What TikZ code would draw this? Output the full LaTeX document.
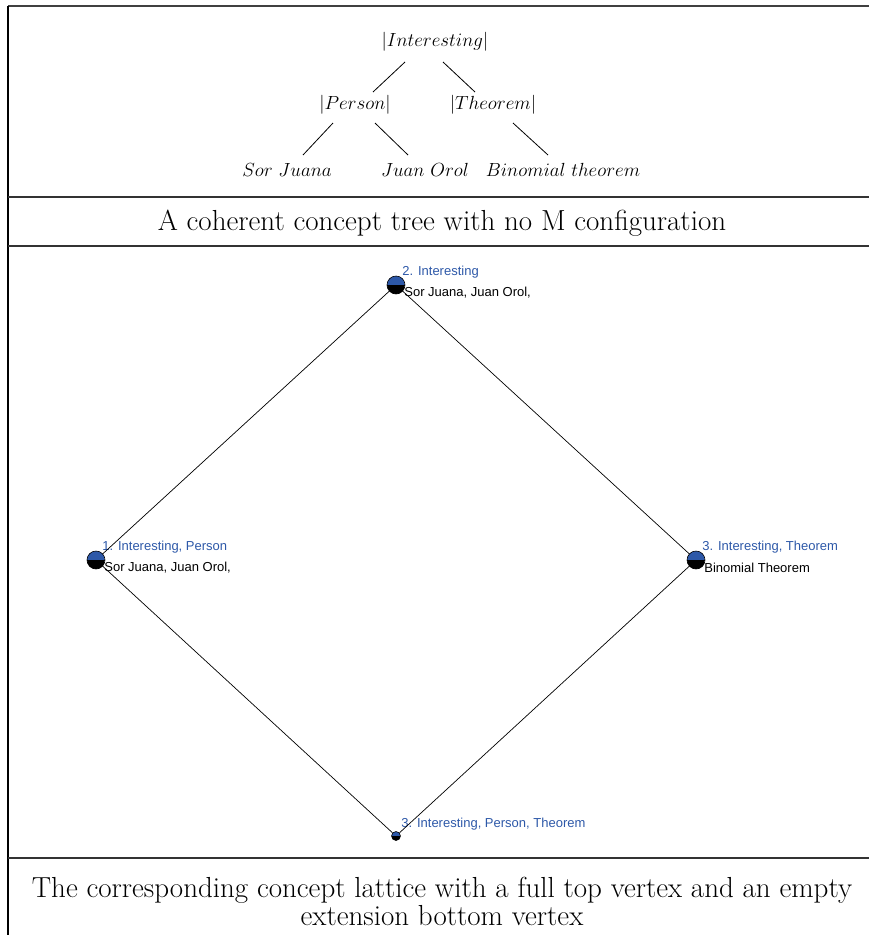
\RequirePackage{fix-cm}
\documentclass[tikz,border=0pt]{standalone}
\usepackage{fontspec}
\newfontfamily\latticefont{Liberation Sans}
\usetikzlibrary{calc}
\definecolor{intentblue}{RGB}{45,88,168}

\tikzset{
  treenode/.style={inner sep=0pt,font=\fontsize{19}{22}\selectfont},
  caption/.style={align=center,font=\fontsize{29}{28}\selectfont},
  vertex/.style={circle,inner sep=0pt,minimum size=#1,draw=black,line width=0.6pt,
    path picture={\fill[intentblue] (path picture bounding box.north west) rectangle (path picture bounding box.east);
                  \fill[black] (path picture bounding box.west) rectangle (path picture bounding box.south east);}},
  intent/.style={anchor=west,inner sep=0pt,text=intentblue,font=\latticefont\fontsize{13}{15}\selectfont},
  extent/.style={anchor=west,inner sep=0pt,font=\latticefont\fontsize{13}{15}\selectfont}
}

\begin{document}
\begin{tikzpicture}[x=1pt,y=-1pt,line width=0.8pt]
  \useasboundingbox (0,0) rectangle (869,935);
  % frame
  \draw[line width=1.4pt,black!75] (8,6) -- (869,6);
  \draw[line width=1.2pt] (8,6) -- (8,935);
  \foreach \y in {197,246,858} \draw[line width=1.2pt,black!80] (8,\y) -- (869,\y);

  % concept tree
  \node[treenode] (int) at (435,42)  {$|Interesting|$};
  \node[treenode] (per) at (355,105) {$|Person|$};
  \node[treenode] (thm) at (493,105) {$|Theorem|$};
  \node[treenode] (sor) at (287,170) {$Sor\ Juana$};
  \node[treenode] (jua) at (425,170) {$Juan\ Orol$};
  \node[treenode] (bin) at (563,170) {$Binomial\ theorem$};
  \draw ($(int)+(-30,20)$) -- ($(per)+(18,-13)$);
  \draw ($(int)+(8,20)$)   -- ($(thm)+(-18,-13)$);
  \draw ($(per)+(-22,18)$) -- ($(sor)+(16,-15)$);
  \draw ($(per)+(20,18)$)  -- ($(jua)+(-17,-15)$);
  \draw ($(thm)+(20,18)$)  -- ($(bin)+(-15,-15)$);
  \node[caption] (cap1) at (442,223) {A coherent concept tree with no M configuration};

  % concept lattice
  \foreach \v/\x/\y/\intxt/\extxt in {top/396/285/{2. Interesting}/{Sor Juana, Juan Orol,},
                                      lft/96/560/{1. Interesting, Person}/{Sor Juana, Juan Orol,},
                                      rgt/696/560/{3. Interesting, Theorem}/{Binomial Theorem}} {
    \node[vertex=18pt] (\v) at (\x,\y) {};
    \node[intent] (\v-int) at ($(\v)+(6,-13)$) {\intxt};
    \node[extent] (\v-ext) at ($(\v)+(8,8)$) {\extxt};
  }
  \node[vertex=9pt] (bot) at (396,836) {};
  \node[intent] (bot-int) at ($(bot)+(5,-12)$) {3. Interesting, Person, Theorem};
  \draw[line width=0.7pt] (top) -- (lft) (top) -- (rgt) (lft) -- (bot) (rgt) -- (bot);

  \node[caption] (cap2) at (442,901) {The corresponding concept lattice with a full top vertex and an empty\\extension bottom vertex};
\end{tikzpicture}
\end{document}
